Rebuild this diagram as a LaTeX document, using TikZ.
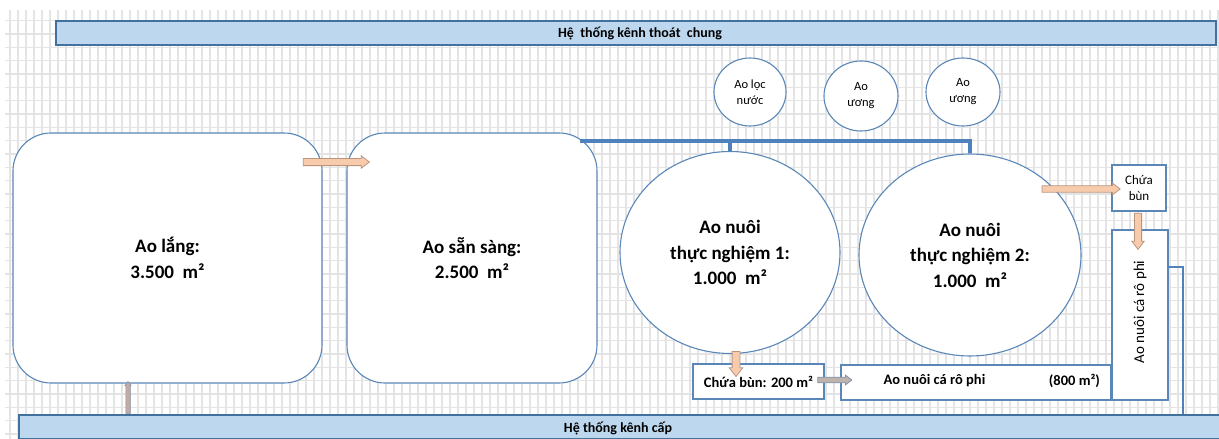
\documentclass[tikz,border=0pt]{standalone}
\usepackage{fontspec}
\setmainfont{Carlito}
\usetikzlibrary{shapes.geometric,shapes.arrows,calc}
\definecolor{gridc}{HTML}{E4E4E4}
\definecolor{barfill}{HTML}{BDD7EE}
\definecolor{bardraw}{HTML}{41719C}
\definecolor{shapedraw}{HTML}{5A87B8}
\definecolor{pipec}{HTML}{4F81BD}
\definecolor{peach}{HTML}{F8CBAD}
\definecolor{peachdraw}{HTML}{B9957E}
\definecolor{grayarrow}{HTML}{BFB3AE}
\definecolor{grayarrowdraw}{HTML}{8093AC}
\definecolor{mauve}{HTML}{C6ABA3}
\newcommand{\mkblockarrow}[4][]{%
  \path let \p1=(#3), \p2=(#4), \n1={atan2(\y2-\y1,\x2-\x1)}, \n2={veclen(\x2-\x1,\y2-\y1)} in
    node[blockarr,#1,rotate=\n1,minimum height=\n2] (#2) at ($(#3)!0.5!(#4)$) {};}
\tikzset{
  gridline/.style={draw=gridc,line width=1.3pt},
  bar/.style={draw=bardraw,fill=barfill,line width=1.1pt,inner sep=0pt},
  bartext/.style={font=\bfseries\fontsize{14}{16}\selectfont},
  pond/.style={draw=shapedraw,fill=white,line width=1.1pt,inner sep=0pt,align=center,font=\bfseries\fontsize{19}{25.5}\selectfont},
  smallpond/.style={draw=shapedraw,fill=white,ellipse,line width=1.1pt,inner sep=0pt,align=center,font=\fontsize{12.5}{16}\selectfont},
  box/.style={draw=shapedraw,fill=white,line width=1.1pt,inner sep=0pt,align=center},
  pipe/.style={draw=pipec,line width=3.5pt,line join=miter},
  blockarr/.style={single arrow,draw=peachdraw,fill=peach,line width=0.8pt,inner xsep=0pt,inner ysep=3.2pt,
    text height=0pt,text depth=0pt,minimum width=0pt,single arrow head extend=2.6pt,single arrow tip angle=75},
}
\begin{document}
\begin{tikzpicture}[x=1pt,y=-1pt]
\useasboundingbox (0,0) rectangle (1219,439);
\fill[white] (0,0) rectangle (1219,439);
% grid
\foreach \gx in {10,18,...,1218} \draw[gridline] (\gx,10) -- (\gx,439);
\foreach \k in {0,...,31} \draw[gridline] (5,20.7+13.333*\k) -- (1219,20.7+13.333*\k);
% bars
\node[bar,minimum width=1160pt,minimum height=24pt] (thoat) at (636,33) {};
\node[bartext] (thoatT) at (640,33) {Hệ\ \ thống kênh thoát\ \ chung};
\node[bar,minimum width=1206pt,minimum height=24pt] (cap) at (622,427) {};
\node[bartext] (capT) at (618,428) {Hệ thống kênh cấp};
% ponds
\node[pond,rounded corners=38pt,minimum width=309pt,minimum height=250pt] (lang) at (167.5,258) {Ao lắng:\\3.500\ \ m²};
\node[pond,rounded corners=38pt,minimum width=250pt,minimum height=250pt] (sansang) at (472,258) {Ao sẵn sàng:\\2.500\ \ m²};
\node[pond,ellipse,minimum width=220pt,minimum height=202pt] (nuoi1) at (730,252.5) {Ao nuôi\\thực nghiệm 1:\\1.000\ \ m²};
\node[pond,ellipse,minimum width=222pt,minimum height=202pt] (nuoi2) at (970,255) {Ao nuôi\\thực nghiệm 2:\\1.000\ \ m²};
% small ponds
\node[smallpond,minimum width=72pt,minimum height=68pt] (loc) at (750,92) {Ao lọc\\nước};
\node[smallpond,minimum width=74pt,minimum height=70pt] (uong1) at (861,96) {Ao\\ương};
\node[smallpond,minimum width=74pt,minimum height=68pt] (uong2) at (963,92) {Ao\\ương};
% boxes
\node[box,minimum width=131pt,minimum height=35pt,font=\bfseries\fontsize{14.5}{16}\selectfont] (bun1) at (758.5,381.5) {Chứa bùn: 200 m²};
\node[box,minimum width=270pt,minimum height=35pt] (rophiH) at (976,382.5) {};
\node[font=\bfseries\fontsize{14.5}{16}\selectfont] (rophiHT) at ($(rophiH.west)+(94,-1.5)$) {Ao nuôi cá rô phi};
\node[font=\bfseries\fontsize{14.5}{16}\selectfont] (rophiHA) at ($(rophiH.west)+(234,-1.5)$) {(800 m²)};
\node[box,minimum width=54pt,minimum height=46pt,font=\fontsize{13}{16}\selectfont] (bun2) at (1139,188) {Chứa\\bùn};
\node[box,minimum width=56pt,minimum height=170pt] (rophiV) at (1140,315) {};
\node[font=\fontsize{15}{17}\selectfont,rotate=90] (rophiVT) at (1140,312) {Ao nuôi cá rô phi};
% pipe
\coordinate (pipeL) at (580,141);
\draw[pipe] (pipeL) -- (nuoi2.north |- pipeL) -- (nuoi2.north);
\draw[pipe,line width=4pt] (nuoi1.north |- pipeL) -- (nuoi1.north);
% outlet line
\coordinate (outA) at (1183,267);
\draw[draw=pipec,line width=2pt] (rophiV.east |- outA) -- (outA) -- (outA |- cap.north);
% arrows
\coordinate (a1s) at (301,162); \coordinate (a1e) at (367,162);
\mkblockarrow{arr1}{a1s}{a1e}
\coordinate (a2s) at (736,349); \coordinate (a2e) at (736,374);
\mkblockarrow[inner ysep=3.5pt,single arrow head extend=2.8pt]{arr2}{a2s}{a2e}
\coordinate (a3s) at (816,380); \coordinate (a3e) at (850,380);
\mkblockarrow[fill=grayarrow,draw=grayarrowdraw,inner ysep=2.4pt,single arrow head extend=2pt]{arr3}{a3s}{a3e}
\coordinate (a4s) at (1040,189); \coordinate (a4e) at (1118,189);
\mkblockarrow[inner ysep=2.8pt]{arr4}{a4s}{a4e}
\coordinate (a5s) at (1138,211); \coordinate (a5e) at (1138,247);
\mkblockarrow{arr5}{a5s}{a5e}
\coordinate (a6s) at (128,415); \coordinate (a6e) at (128,383);
\mkblockarrow[fill=mauve,draw=grayarrowdraw,inner ysep=1.9pt,single arrow head extend=0.8pt,line width=0.6pt]{arr6}{a6s}{a6e}
\end{tikzpicture}
\end{document}
